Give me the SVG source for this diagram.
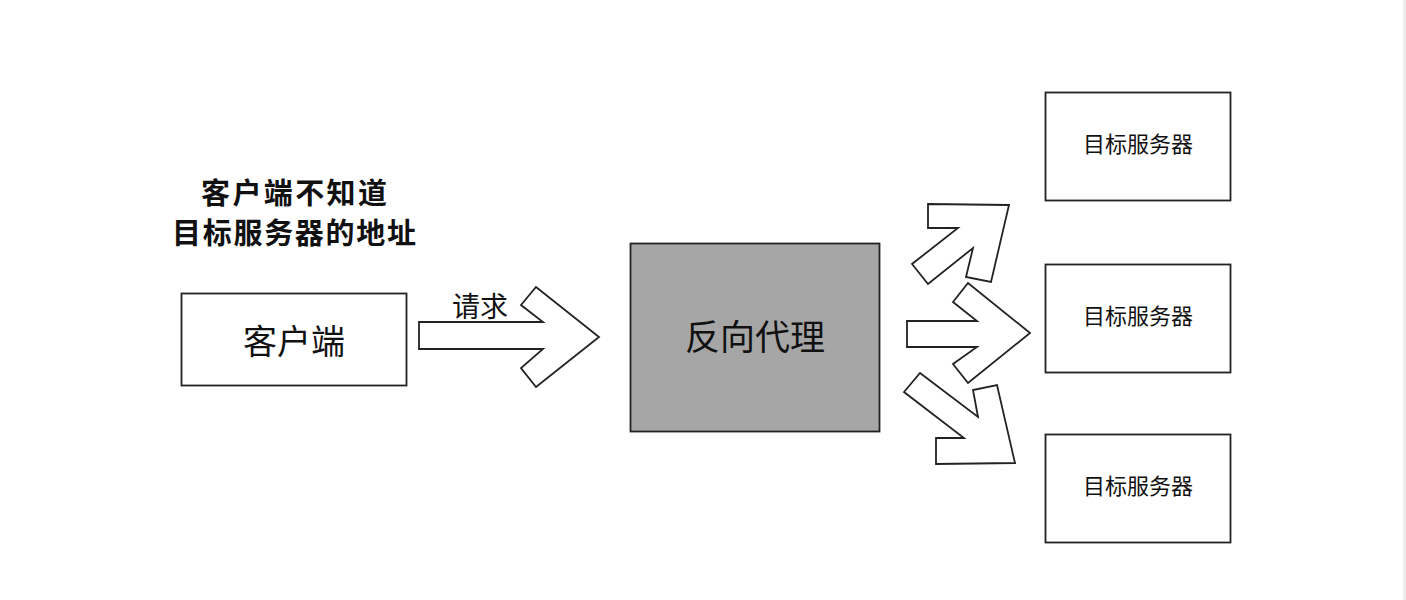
<svg xmlns="http://www.w3.org/2000/svg" width="1406" height="600" viewBox="0 0 1406 600">
<style>
.box{fill:#fff;stroke:#222;stroke-width:1.8}
.proxy{fill:#a6a6a6;stroke:#222;stroke-width:1.8}
.arrow{fill:#fff;stroke:#222;stroke-width:1.8;stroke-linejoin:miter}
.t{font-family:"Noto Sans CJK SC","Noto Sans",sans-serif;fill:#111}
.title{font-family:"Noto Sans CJK SC","Noto Sans",sans-serif;font-weight:bold;font-size:29px;fill:#111}
</style>
<rect x="0" y="0" width="1406" height="600" fill="#fff"/>
<rect x="1403" y="0" width="3" height="600" fill="#ececec"/>
<g id="note">
<text class="title" x="201" y="204" textLength="186" lengthAdjust="spacing">客户端不知道</text>
<text class="title" x="172" y="244" textLength="244" lengthAdjust="spacing">目标服务器的地址</text>
</g>
<g id="client">
<rect class="box" x="181.5" y="293.5" width="225" height="92"/>
<text class="t" x="294" y="354" font-size="34" text-anchor="middle">客户端</text>
</g>
<g id="proxy">
<rect class="proxy" x="630.5" y="243.5" width="249" height="188"/>
<text class="t" x="755" y="350" font-size="35" text-anchor="middle">反向代理</text>
</g>
<g id="server1">
<rect class="box" x="1045.5" y="92.5" width="185" height="108"/>
<text class="t" x="1138" y="152" font-size="22" text-anchor="middle">目标服务器</text>
</g>
<g id="server2">
<rect class="box" x="1045.5" y="264.5" width="185" height="108"/>
<text class="t" x="1138" y="324" font-size="22" text-anchor="middle">目标服务器</text>
</g>
<g id="server3">
<rect class="box" x="1045.5" y="434.5" width="185" height="108"/>
<text class="t" x="1138" y="494" font-size="22" text-anchor="middle">目标服务器</text>
</g>
<g id="connectors">
<polygon class="arrow" points="419,322 543,322 521,305 536,287 599,337 536,387 521,368 543,349 419,349"/>
<text class="t" x="452" y="317" font-size="28">请求</text>
<polygon class="arrow" points="928,204 1009,205 991,282 966,277 973,248 928,284 912,264 958,228 928,228"/>
<polygon class="arrow" points="907,321 977,321 953,302 968,283 1030,333 968,383 953,364 977,347 907,347"/>
<polygon class="arrow" points="920,373 978,417 973,390 997,385 1015,463 936,464 936,438 964,438 904,392"/>
</g>
</svg>
